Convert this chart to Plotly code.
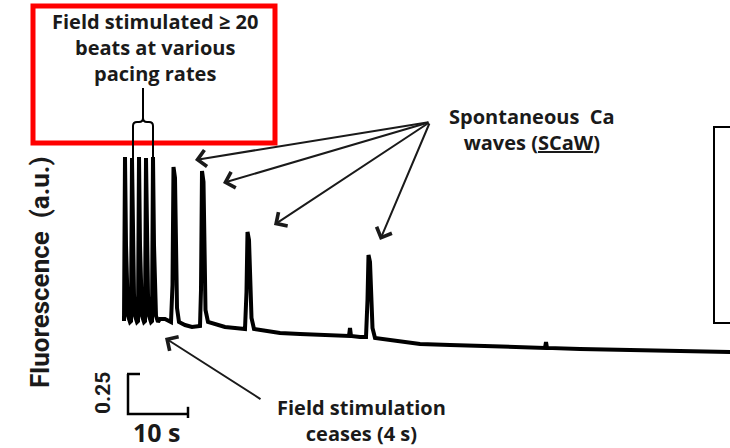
import plotly.graph_objects as go

# Fluorescence trace: time (s) and signal (a.u.)
time_s = [
    0.0, 0.167, 0.333, 0.5, 0.667, 1.0,
    1.167, 1.333, 1.5, 1.667, 1.833, 2.167,
    2.333, 2.5, 2.667, 2.833, 3.0, 3.333,
    3.5, 3.667, 3.833, 4.0, 4.167, 4.5,
    4.667, 4.833, 5.0, 5.167, 5.333, 5.667,
    6.0, 6.833, 7.667,
    7.833, 8.083, 8.25, 8.5, 8.667, 8.833, 9.167,
    10.167, 11.333, 12.5,
    12.667, 12.833, 13.0, 13.25, 13.417, 13.583, 14.0,
    15.167, 16.833, 18.5, 20.0,
    20.167, 20.417, 20.583, 20.833, 21.0, 21.25, 21.667,
    23.5, 26.0, 29.333, 32.667, 36.0, 37.5, 37.667, 37.833, 39.333, 40.167,
    40.333, 40.583, 40.75, 41.0, 41.167, 41.417, 41.833,
    44.333, 49.333, 54.333, 59.333, 64.333, 70.167, 70.333, 70.5,
    76.0, 82.667, 89.333, 96.0, 101.333,
]
fluor = [
    0.181, 1.206, 0.656, 0.344, 0.213, 0.175,
    0.181, 1.200, 0.656, 0.344, 0.213, 0.175,
    0.181, 1.206, 0.656, 0.344, 0.213, 0.175,
    0.181, 1.200, 0.656, 0.344, 0.213, 0.175,
    0.181, 1.206, 0.656, 0.344, 0.213, 0.175,
    0.194, 0.194, 0.175,
    0.175, 0.406, 1.144, 1.075, 0.500, 0.263, 0.175,
    0.156, 0.144, 0.144,
    0.150, 0.375, 1.119, 1.050, 0.469, 0.250, 0.175,
    0.163, 0.144, 0.138, 0.131,
    0.131, 0.363, 0.738, 0.688, 0.375, 0.200, 0.131,
    0.119, 0.106, 0.100, 0.094, 0.088, 0.088, 0.138, 0.088, 0.081, 0.081,
    0.081, 0.313, 0.594, 0.550, 0.313, 0.138, 0.075,
    0.063, 0.038, 0.031, 0.025, 0.019, 0.013, 0.050, 0.013,
    0.006, 0.000, 0.000, -0.006, -0.013,
]

# Scale bar
scale_t = 10.0      # s
scale_f = 0.25      # a.u.
scale_origin = (0.667, -0.40)

W, H = 730, 448
FONT = "Open Sans"
SANS = "Roboto"


def px(x):
    return x / W


def py(y):
    return 1 - y / H


fig = go.Figure()

fig.add_trace(go.Scatter(
    x=time_s, y=fluor, mode="lines",
    line=dict(color="black", width=4),
    hoverinfo="skip",
))

# L-shaped scale bar with end caps
t0, f0 = scale_origin
fig.add_trace(go.Scatter(
    x=[t0 - 0.17, t0 + 2.0, None, t0, t0, t0 + scale_t, None,
       t0 + scale_t, t0 + scale_t],
    y=[f0 + scale_f, f0 + scale_f, None, f0 + scale_f, f0, f0, None,
       f0 + 0.045, f0 - 0.025],
    mode="lines", line=dict(color="black", width=2.5),
    hoverinfo="skip",
))

shapes = [
    # red box around stimulation note
    dict(type="rect", xref="paper", yref="paper",
         x0=px(33), x1=px(275), y0=py(143), y1=py(6),
         line=dict(color="#ff0000", width=5)),
    # box at right edge
    dict(type="rect", xref="paper", yref="paper",
         x0=px(714), x1=px(760), y0=py(323), y1=py(127),
         line=dict(color="black", width=2)),
]

# stimulation bracket over the paced beats
bracket = (
    f"M {px(143)},{py(88)} L {px(143)},{py(118)} "
    f"Q {px(143)},{py(122)} {px(139)},{py(122)} L {px(137)},{py(122)} "
    f"Q {px(133)},{py(122)} {px(133)},{py(126)} L {px(133)},{py(160)} "
    f"M {px(143)},{py(118)} Q {px(143)},{py(122)} {px(147)},{py(122)} "
    f"L {px(149)},{py(122)} Q {px(153)},{py(122)} {px(153)},{py(126)} "
    f"L {px(153)},{py(160)}"
)
shapes.append(dict(type="path", xref="paper", yref="paper", path=bracket,
                   line=dict(color="black", width=2)))

annotations = []


def label(text, x, y, size=20, angle=0, family=FONT):
    annotations.append(dict(
        text=text, xref="paper", yref="paper", x=px(x), y=py(y),
        xanchor="center", yanchor="middle", showarrow=False,
        textangle=angle,
        font=dict(family=family, size=size, color="#1a1a1a", weight=700),
    ))


def arrow(head, tail):
    annotations.append(dict(
        text="", xref="paper", yref="paper", x=px(head[0]), y=py(head[1]),
        ax=tail[0] - head[0], ay=tail[1] - head[1],
        showarrow=True, arrowhead=4, arrowsize=1.6, arrowwidth=2,
        arrowcolor="#1a1a1a",
    ))


label("Field stimulated ≥ 20<br>beats at various<br>pacing rates", 155, 48)
label("Spontaneous  Ca<br>waves (<u>SCaW</u>)", 532, 129)
label("Field stimulation<br>ceases (4 s)", 361, 420)
label("10 s", 157, 432, size=25)
label("0.25", 103, 393, size=21, angle=-90, family=SANS)
label("Fluorescence  (a.u.)", 40, 272, size=26, angle=-90, family=SANS)

sc_tail = (430, 122)
for head in [(195, 160), (223, 183), (274, 225), (380, 240)]:
    arrow(head, sc_tail)
arrow((165, 338), (262, 400))

fig.update_layout(
    width=W, height=H,
    margin=dict(l=0, r=0, t=0, b=0),
    paper_bgcolor="white", plot_bgcolor="white",
    showlegend=False,
    xaxis=dict(range=[-20.667, 101.0], visible=False, fixedrange=True),
    yaxis=dict(range=[-0.6125, 2.1875], visible=False, fixedrange=True),
    shapes=shapes, annotations=annotations,
)

fig.write_html("out.html")
